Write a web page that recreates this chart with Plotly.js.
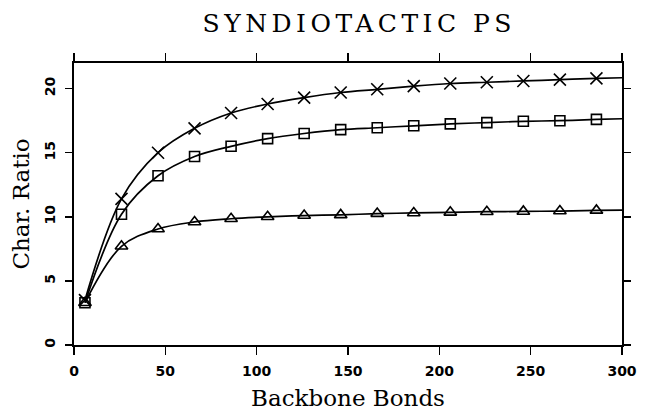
<!DOCTYPE html>
<html>
<head>
<meta charset="utf-8">
<script src="https://cdn.plot.ly/plotly-3.0.1.min.js"></script>
<style>
  html, body { margin: 0; padding: 0; background: #fff; }
  #chart { width: 645px; height: 414px; }
</style>
</head>
<body>
<div id="chart"></div>
<script>
// Backbone bonds at which the characteristic ratio was computed
const bonds = [6, 26, 46, 66, 86, 106, 126, 146, 166, 186, 206, 226, 246, 266, 286];

// Characteristic ratio for the three model sets
const ratioCross  = [3.5, 11.4, 15.0, 16.9, 18.1, 18.8, 19.3, 19.7, 19.95, 20.2, 20.4, 20.5, 20.6, 20.7, 20.8];
const ratioSquare = [3.3, 10.2, 13.2, 14.7, 15.5, 16.1, 16.5, 16.8, 16.95, 17.1, 17.25, 17.35, 17.45, 17.5, 17.6];
const ratioTri    = [3.3, 7.7, 9.05, 9.6, 9.85, 10.0, 10.1, 10.15, 10.25, 10.3, 10.35, 10.4, 10.42, 10.45, 10.5];

// Where the fitted curves reach the right edge of the frame
const curveEndBond = 300;
const curveEndCross = 20.85;
const curveEndSquare = 17.65;
const curveEndTri = 10.52;

const xTickVals = [0, 50, 100, 150, 200, 250, 300];
const yTickVals = [0, 5, 10, 15, 20];

const serif = 'DejaVu Serif, serif';
const sans = 'DejaVu Sans, sans-serif';

function curve(y, yEnd) {
  return {
    x: bonds.concat([curveEndBond]),
    y: y.concat([yEnd]),
    type: 'scatter',
    mode: 'lines',
    line: { color: '#000', width: 1.7, shape: 'spline', smoothing: 1 },
    hoverinfo: 'skip',
    showlegend: false
  };
}

function points(y, symbol, size) {
  return {
    x: bonds,
    y: y,
    type: 'scatter',
    mode: 'markers',
    marker: { symbol: symbol, size: size, color: '#000', line: { color: '#000', width: 1.6 } },
    showlegend: false
  };
}

const data = [
  curve(ratioCross, curveEndCross),
  curve(ratioSquare, curveEndSquare),
  curve(ratioTri, curveEndTri),
  points(ratioCross, 'x-thin-open', 12),
  points(ratioSquare, 'square-open', 10),
  points(ratioTri, 'triangle-up-open', 11)
];

const axisCommon = {
  showline: true,
  linecolor: '#000',
  linewidth: 1.7,
  mirror: 'ticks',
  ticks: 'outside',
  tickcolor: '#000',
  tickwidth: 1.5,
  showgrid: false,
  zeroline: false,
  tickfont: { family: sans, size: 14, color: '#000', weight: 'bold' }
};

const layout = {
  width: 645,
  height: 414,
  paper_bgcolor: '#fff',
  plot_bgcolor: '#fff',
  margin: { l: 74, r: 23, t: 63, b: 69 },
  title: {
    text: 'SYNDIOTACTIC PS',
    font: { family: serif, size: 25, color: '#000' },
    xref: 'container', x: 0.557, xanchor: 'center',
    yref: 'container', y: 1 - 23 / 414, yanchor: 'middle'
  },
  xaxis: Object.assign({}, axisCommon, {
    range: [0, 300],
    tickvals: xTickVals,
    ticklen: 8,
    ticklabelstandoff: 4,
    title: { text: 'Backbone Bonds', font: { family: serif, size: 23, color: '#000' }, standoff: 12 }
  }),
  yaxis: Object.assign({}, axisCommon, {
    range: [0, 22],
    tickvals: yTickVals,
    tickangle: -90,
    ticklen: 7,
    ticklabelstandoff: 5,
    title: { text: 'Char. Ratio', font: { family: serif, size: 23, color: '#000' }, standoff: 6 }
  })
};

Plotly.newPlot('chart', data, layout, { displayModeBar: false, staticPlot: true }).then(function () {
  // spread the title letters the way the plotter lettering is spaced
  const t = document.querySelector('.gtitle');
  if (t) t.setAttribute('letter-spacing', '4.5px');
});
</script>
</body>
</html>
